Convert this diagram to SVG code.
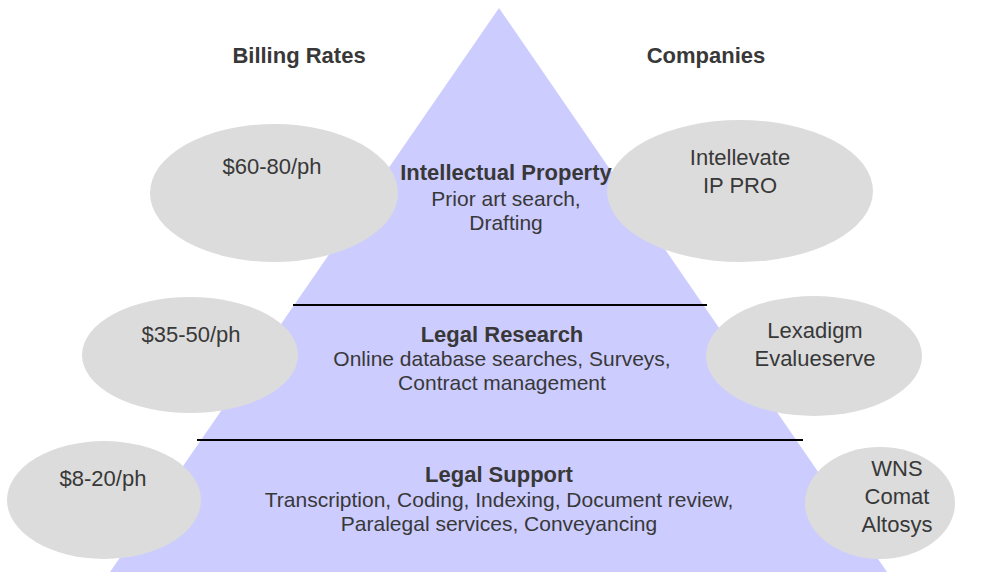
<svg xmlns="http://www.w3.org/2000/svg" width="997" height="572" viewBox="0 0 997 572">
  <style>
    text { font-family: "Liberation Sans", Arial, sans-serif; font-size: 22px; fill: #383838; text-anchor: middle; }
    .b { font-weight: bold; }
    .d { font-size: 21px; }
    .bubble { fill: #dcdcdc; }
    .pyramid { fill: #ccccff; }
    .divider { stroke: #000000; stroke-width: 2; }
  </style>

  <!-- pyramid body -->
  <g id="pyramid">
    <polygon class="pyramid" points="499,8 110,572 887,572"/>
  </g>

  <!-- tier dividers -->
  <g id="connectors">
    <line class="divider" x1="293" y1="305" x2="707" y2="305"/>
    <line class="divider" x1="197" y1="440" x2="803" y2="440"/>
  </g>

  <!-- column headers -->
  <g id="header-rates">
    <text class="b" x="299" y="63">Billing Rates</text>
  </g>
  <g id="header-companies">
    <text class="b" x="706" y="63">Companies</text>
  </g>

  <!-- billing rate bubbles -->
  <g id="rate-ip">
    <ellipse class="bubble" cx="274" cy="193" rx="124" ry="69"/>
    <text x="272" y="174">$60-80/ph</text>
  </g>
  <g id="rate-research">
    <ellipse class="bubble" cx="190" cy="355" rx="108" ry="58"/>
    <text x="191" y="342">$35-50/ph</text>
  </g>
  <g id="rate-support">
    <ellipse class="bubble" cx="104" cy="500" rx="97" ry="59"/>
    <text x="103" y="486">$8-20/ph</text>
  </g>

  <!-- company bubbles -->
  <g id="companies-ip">
    <ellipse class="bubble" cx="740" cy="191" rx="133" ry="71"/>
    <text x="740" y="165">Intellevate</text>
    <text x="740" y="193">IP PRO</text>
  </g>
  <g id="companies-research">
    <ellipse class="bubble" cx="814" cy="356" rx="108" ry="60"/>
    <text x="815" y="338">Lexadigm</text>
    <text x="815" y="366">Evalueserve</text>
  </g>
  <g id="companies-support">
    <ellipse class="bubble" cx="880" cy="503" rx="75" ry="56"/>
    <text x="897" y="476">WNS</text>
    <text x="897" y="504">Comat</text>
    <text x="897" y="532">Altosys</text>
  </g>

  <!-- tier labels -->
  <g id="tier-ip">
    <text class="b" x="506" y="180">Intellectual Property</text>
    <text class="d" x="506" y="206">Prior art search,</text>
    <text class="d" x="506" y="230">Drafting</text>
  </g>
  <g id="tier-research">
    <text class="b" x="502" y="342">Legal Research</text>
    <text class="d" x="502" y="366">Online database searches, Surveys,</text>
    <text class="d" x="502" y="390">Contract management</text>
  </g>
  <g id="tier-support">
    <text class="b" x="499" y="482">Legal Support</text>
    <text class="d" x="499" y="507">Transcription, Coding, Indexing, Document review,</text>
    <text class="d" x="499" y="531">Paralegal services, Conveyancing</text>
  </g>
</svg>
